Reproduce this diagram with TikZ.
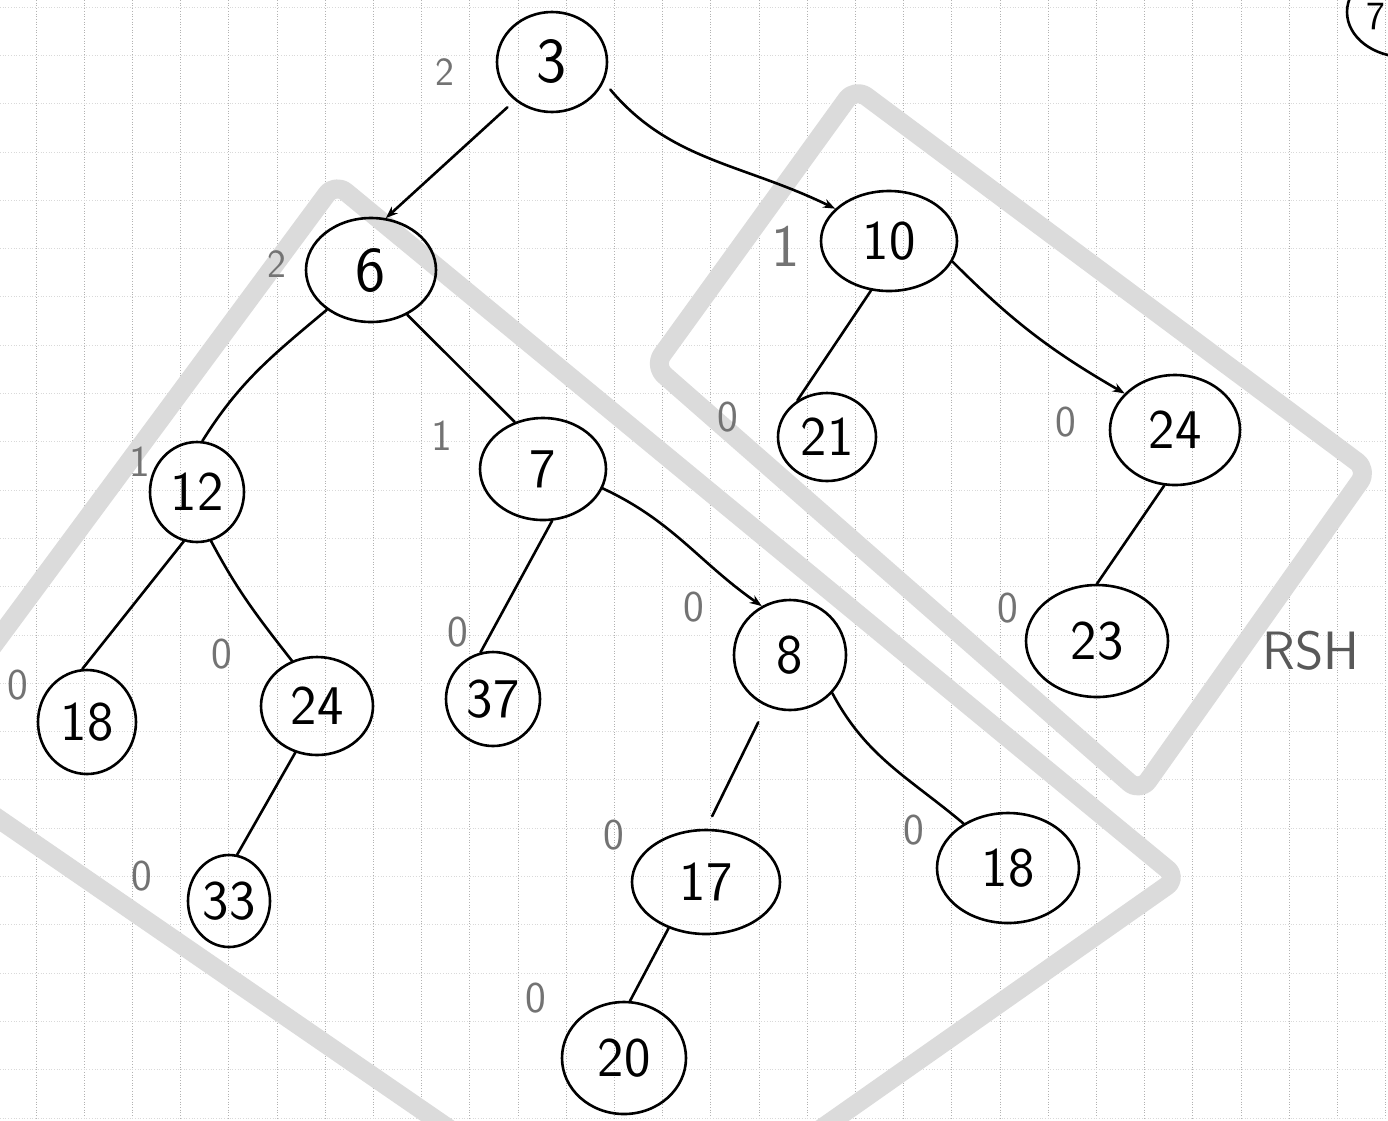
\documentclass[tikz,border=0pt]{standalone}
\usepackage{fontspec}
\usetikzlibrary{shapes.geometric,arrows.meta}
\begin{document}
\begin{tikzpicture}[x=1pt,y=1pt,
  hnode/.style={draw=black, line width=2.6pt, ellipse, inner sep=0pt,
    font=\sffamily\fontsize{56}{56}\selectfont},
  bigtext/.style={font=\sffamily\fontsize{64}{64}\selectfont},
  rank/.style={text=black!55, inner sep=0pt, font=\sffamily\fontsize{44}{44}\selectfont},
  smallrank/.style={rank, font=\sffamily\fontsize{40}{40}\selectfont},
  edge/.style={line width=2.6pt, line cap=round},
  arr/.style={-{Stealth[length=12pt,width=9pt]}},
  band/.style={draw=black!14, line width=19pt, line join=round, rounded corners=14pt},
  gridv/.style={black!30, line width=0.7pt, dotted},
  gridh/.style={black!15, line width=0.7pt, dotted}]
\useasboundingbox (0,0) rectangle (1388,-1120);
\clip (0,0) rectangle (1388,-1120);
\fill[white] (0,0) rectangle (1388,-1120);

% grid paper
\foreach \i in {0,...,28} \draw[gridv] ({36+48.2*\i},0) -- ({36+48.2*\i},-1120);
\foreach \j in {0,...,23} \draw[gridh] (0,{-7-48.3*\j}) -- (1388,{-7-48.3*\j});

% highlight bands
\draw[band] (335,-183) -- (1178,-878) -- (637,-1258) -- (-90,-758) -- cycle;
\draw[band] (855,-88) -- (1368,-470) -- (1140,-792) -- (654,-366) -- cycle;

% nodes
\node[hnode, bigtext, minimum width=110pt, minimum height=100pt] (n3) at (552,-62) {3};
\node[hnode, bigtext, minimum width=130pt, minimum height=104pt] (n6) at (371,-270) {6};
\node[hnode, minimum width=136pt, minimum height=100pt] (n10) at (889,-241) {10};
\node[hnode, minimum width=94pt, minimum height=100pt] (n12) at (197,-492) {12};
\node[hnode, minimum width=126pt, minimum height=102pt] (n7) at (543,-469) {7};
\node[hnode, minimum width=98pt, minimum height=88pt] (n21) at (827,-437) {21};
\node[hnode, minimum width=130pt, minimum height=110pt] (n24r) at (1175,-430) {24};
\node[hnode, minimum width=98pt, minimum height=104pt] (n18l) at (87,-722) {18};
\node[hnode, minimum width=112pt, minimum height=98pt] (n24l) at (317,-706) {24};
\node[hnode, minimum width=94pt, minimum height=94pt] (n37) at (493,-699) {37};
\node[hnode, minimum width=112pt, minimum height=110pt] (n8) at (790,-655) {8};
\node[hnode, minimum width=142pt, minimum height=112pt] (n23) at (1097,-641) {23};
\node[hnode, minimum width=82pt, minimum height=92pt] (n33) at (229,-901) {33};
\node[hnode, minimum width=148pt, minimum height=104pt] (n17) at (706,-882) {17};
\node[hnode, minimum width=142pt, minimum height=110pt] (n18r) at (1008,-868) {18};
\node[hnode, minimum width=124pt, minimum height=112pt] (n20) at (624,-1058) {20};
\node[hnode, minimum width=116pt, minimum height=90pt] (ntop) at (1405,-12) {};
\node[inner sep=0pt, font=\sffamily\fontsize{40}{40}\selectfont] (t7) at (1376,-17) {7};

% rank labels
\node[smallrank] (r3) at (445,-72) {2};
\node[smallrank] (r6) at (277,-264) {2};
\node[rank, font=\sffamily\fontsize{60}{60}\selectfont] (r10) at (786,-246) {1};
\node[rank] (r12) at (140,-462) {1};
\node[rank] (r7) at (442,-436) {1};
\node[rank] (r21) at (728,-417) {0};
\node[rank] (r24r) at (1066,-422) {0};
\node[rank] (r18l) at (18,-685) {0};
\node[rank] (r24l) at (222,-654) {0};
\node[rank] (r37) at (458,-632) {0};
\node[rank] (r8) at (694,-607) {0};
\node[rank] (r23) at (1008,-608) {0};
\node[rank] (r33) at (142,-876) {0};
\node[rank] (r17) at (614,-835) {0};
\node[rank] (r18r) at (914,-830) {0};
\node[rank] (r20) at (536,-998) {0};

\node[text=black!65, font=\sffamily\fontsize{54}{54}\selectfont] (rsh) at (1311,-651) {RSH};

% connectors
\draw[edge,arr,shorten <=10pt] (n3.226) -- (n6.74);
\draw[edge,arr,shorten <=10pt] (n3.339) to[out=-50,in=154] (n10.149);
\draw[edge] (n6.222) to[out=-140,in=58] (n12.84);
\draw[edge] (n6.309) -- (n7.121);
\draw[edge] (n10.250) -- (n21.129);
\draw[edge,arr] (n10.342) to[out=-45,in=150] (n24r.144);
\draw[edge] (n12.255) -- (n18l.95);
\draw[edge] (n12.286) to[out=-62,in=128] (n24l.119);
\draw[edge] (n7.280) -- (n37.105);
\draw[edge,arr] (n7.342) to[out=-25,in=145] (n8.120);
\draw[edge] (n24r.259) -- (n23.90);
\draw[edge] (n24l.245) -- (n33.80);
\draw[edge, shorten <=18pt, shorten >=14pt] (n8.245) -- (n17.90);
\draw[edge] (n8.318) to[out=-62,in=140] (n18r.135);
\draw[edge] (n17.231) -- (n20.84);
\end{tikzpicture}
\end{document}
